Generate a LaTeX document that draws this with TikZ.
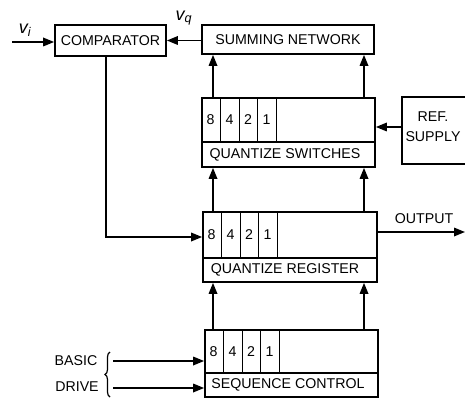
\documentclass[tikz,border=0pt]{standalone}
\usepackage{fontspec}
\setmainfont{Liberation Sans}
\usetikzlibrary{arrows.meta,decorations.pathreplacing}
\begin{document}
\begin{tikzpicture}[x=1pt,y=-1pt,
  box/.style={draw,line width=1.7pt,rectangle,inner sep=0pt},
  txt/.style={font=\fontsize{14.2}{15}\selectfont,inner sep=0pt,align=center},
  conn/.style={line width=1.7pt,-{Triangle[length=11pt,width=8.5pt]}},
  thin/.style={line width=1.2pt}]
\useasboundingbox (0,0) rectangle (465,398);
% main blocks
\node[box,minimum width=111pt,minimum height=31pt] (cmp) at (110.5,40.5) {};
\node[txt] (cmpt) at (110.5,40.5) {COMPARATOR};
\node[box,minimum width=172pt,minimum height=29pt] (sum) at (288,39.5) {};
\node[txt] (sumt) at (288,39.5) {SUMMING NETWORK};
\node[box,minimum width=173pt,minimum height=69pt] (sw) at (288.5,132.5) {};
\node[box,minimum width=174pt,minimum height=70pt] (reg) at (290,247) {};
\node[box,minimum width=173pt,minimum height=67pt] (seq) at (291.5,363.5) {};
\node[minimum width=64pt,minimum height=67pt,inner sep=0pt] (ref) at (434,130.5) {};
\draw[line width=1.7pt] (ref.north east) -- (ref.north west) -- (ref.south west) -- (ref.south east);
\node[txt,font=\fontsize{14.2}{20}\selectfont] (reft) at (433,127) {REF.\\SUPPLY};
% dividers and cells
\draw[thin] (sw.west |- 0,142) -- (sw.east |- 0,142);
\draw[thin] (reg.west |- 0,258) -- (reg.east |- 0,258);
\draw[thin] (seq.west |- 0,373) -- (seq.east |- 0,373);
\foreach \b/\yd in {sw/142,reg/258,seq/373}{
  \foreach \dx in {19,38,56,75}{
    \draw[thin] ([xshift=\dx pt]\b.north west) -- ([xshift=\dx pt]\b.north west |- 0,\yd);
  }
}
\foreach \b/\ym in {sw/120,reg/235,seq/352}{
  \node[txt] (\b8) at ([xshift=9.5pt]\b.west |- 0,\ym) {8};
  \node[txt] (\b4) at ([xshift=28.5pt]\b.west |- 0,\ym) {4};
  \node[txt] (\b2) at ([xshift=47pt]\b.west |- 0,\ym) {2};
  \node[txt] (\b1) at ([xshift=65.5pt]\b.west |- 0,\ym) {1};
}
\node[txt] (swt) at (285,155) {QUANTIZE SWITCHES};
\node[txt] (regt) at (285,270) {QUANTIZE REGISTER};
\node[txt] (seqt) at (288,385) {SEQUENCE CONTROL};
% labels
\node[txt,font=\fontsize{18}{18}\selectfont\itshape] (vi) at (25,30) {v\textsubscript{i}};
\node[txt,font=\fontsize{18}{18}\selectfont\itshape] (vq) at (184,18) {v\textsubscript{q}};
\node[txt] (outt) at (424,219) {OUTPUT};
\node[txt] (basic) at (76,361) {BASIC};
\node[txt] (drive) at (77,387) {DRIVE};
% coordinates
\coordinate (vin) at (12,42);
\coordinate (aL) at (213,0);
\coordinate (aR) at (364,0);
\coordinate (cd) at (106,237);
\coordinate (out) at (465,232);
\coordinate (b1) at (113,361);
\coordinate (b2) at (113,388);
% connectors
\draw[conn] (vin) -- (vin -| cmp.west);
\draw[conn] (sum.west |- 0,40.5) -- (cmp.east);
\draw[conn] (sw.north -| aL) -- (sum.south -| aL);
\draw[conn] (sw.north -| aR) -- (sum.south -| aR);
\draw[conn] (reg.north -| aL) -- (sw.south -| aL);
\draw[conn] (reg.north -| aR) -- (sw.south -| aR);
\draw[conn] (seq.north -| aL) -- (reg.south -| aL);
\draw[conn] (seq.north -| aR) -- (reg.south -| aR);
\draw[conn] (ref.west |- 0,127) -- (sw.east |- 0,127);
\draw[conn] (cmp.south -| cd) |- (reg.west |- cd);
\draw[conn] (reg.east |- out) -- (out);
\draw[conn] (b1) -- (b1 -| seq.west);
\draw[conn] (b2) -- (b2 -| seq.west);
\draw[thin,decorate,decoration={brace,amplitude=5pt}] (110,397) -- (110,352);
\end{tikzpicture}
\end{document}
